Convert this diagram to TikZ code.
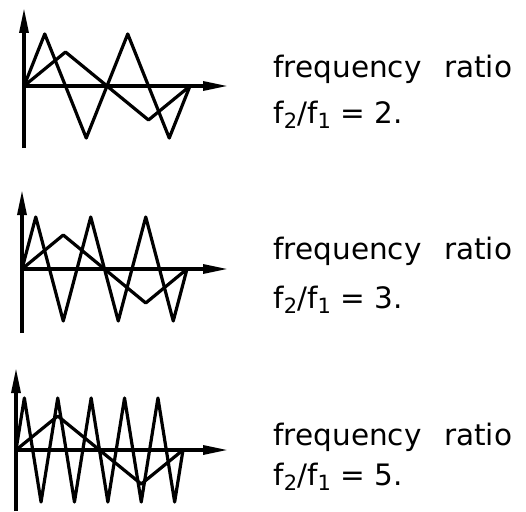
\documentclass[tikz,border=0pt]{standalone}
\usepackage{fontspec}
\setmainfont{DejaVu Sans}
\newfontfamily\ratiofont[WordSpace=2.4]{DejaVu Sans}
\usetikzlibrary{arrows.meta}
\newcommand\lowidx[1]{\raisebox{-5pt}{\fontsize{21}{21}\selectfont #1}}

\begin{document}
\begin{tikzpicture}[x=1pt, y=-1pt, line width=3.2pt,
  axis/.style={-{Triangle[length=25pt,width=9pt]}},
  wave/.style={line join=round},
  lbl/.style={anchor=base west, inner sep=0pt, font=\fontsize{29.5}{34}\selectfont}]
  \useasboundingbox (0,0) rectangle (526,511);
  % ratio / origin x,y / axis bottom, top / period / text baselines
  \foreach \r/\ox/\oy/\yl/\yh/\L/\ba/\bb in {2/24/86/148/8/166/77/123,
      3/22/269/333/190/165/259/308, 5/16/450/511/368/167/445/485} {
    \coordinate (o\r) at (\ox,\oy);
    \draw[axis] (\ox,\yl) -- (\ox,\yh);
    \draw[axis] (o\r) -- (228,\oy);
    % f1
    \draw[wave] (o\r) \foreach \k in {1,...,4} {-- ({\ox+\k*\L/4}, {\oy-34*sin(90*\k)})};
    % f2
    \pgfmathtruncatemacro\m{4*\r}
    \draw[wave] (o\r) \foreach \k in {1,...,\m} {-- ({\ox+\k*\L/(4*\r)}, {\oy-52*sin(90*\k)})};
    \node[lbl, font=\ratiofont\fontsize{29.5}{34}\selectfont] (t\r) at (272,\ba) {frequency ratio};
    \node[lbl] (e\r) at (272,\bb) {f\lowidx{2}/f\lowidx{1} = \r.};
  }
\end{tikzpicture}
\end{document}
